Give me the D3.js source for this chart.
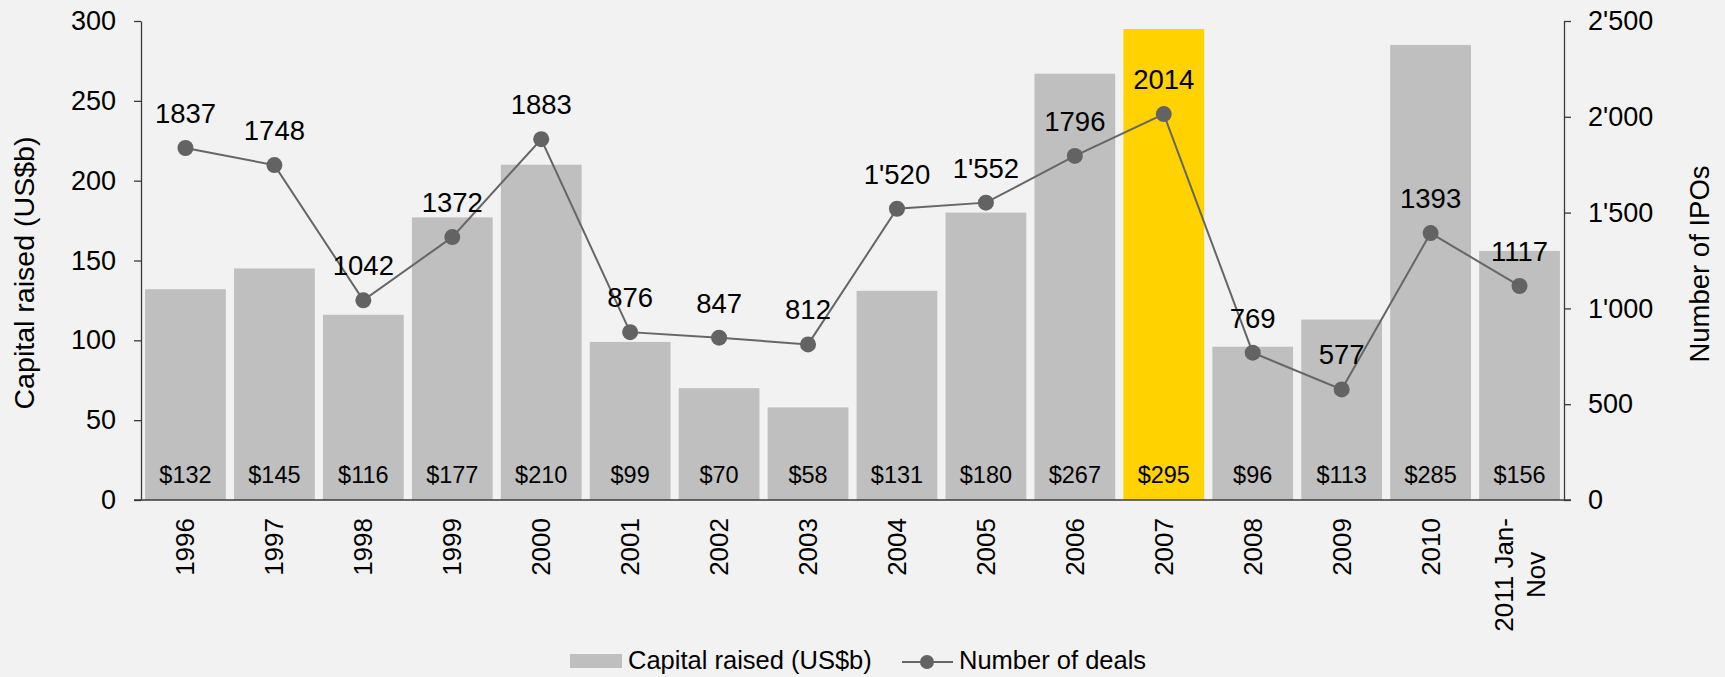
<!DOCTYPE html>
<html>
<head>
<meta charset="utf-8">
<script src="https://cdn.jsdelivr.net/npm/d3@7"></script>
<style>
  html, body { margin: 0; padding: 0; background: #f2f2f2; }
  svg { display: block; font-family: "Liberation Sans", Arial, sans-serif; }
  .axis path, .axis line { stroke: #3a3a3a; stroke-width: 1.3; }
  .axis text { font-size: 27px; fill: #000; }
</style>
</head>
<body>
<svg id="chart" width="1725" height="677"></svg>
<script>
// categories (multi-line labels use \n)
const years = ["1996", "1997", "1998", "1999", "2000", "2001", "2002", "2003",
  "2004", "2005", "2006", "2007", "2008", "2009", "2010", "2011 Jan-\nNov"];
// capital raised, US$b
const capital = [132, 145, 116, 177, 210, 99, 70, 58, 131, 180, 267, 295, 96, 113, 285, 156];
// number of deals
const deals = [1837, 1748, 1042, 1372, 1883, 876, 847, 812, 1520, 1552, 1796, 2014, 769, 577, 1393, 1117];
// deal labels as printed on the chart
const dealLabels = ["1837", "1748", "1042", "1372", "1883", "876", "847", "812",
  "1'520", "1'552", "1796", "2014", "769", "577", "1393", "1117"];
const leftTicks = [0, 50, 100, 150, 200, 250, 300];
const rightTicks = [0, 500, 1000, 1500, 2000, 2500];
const highlightYear = "2007";

const svg = d3.select("#chart");
const mLeft = 141, mRight = 1564, mTop = 21, mBottom = 500;

const x = d3.scaleBand()
  .domain(years)
  .range([mLeft, mRight])
  .paddingInner(0.092)
  .paddingOuter(0.046);

const y = d3.scaleLinear().domain([0, 300]).range([mBottom, mTop]);
const y2 = d3.scaleLinear().domain([0, 2500]).range([mBottom, mTop]);

// bars
svg.append("g")
  .selectAll("rect")
  .data(years)
  .join("rect")
  .attr("x", d => x(d))
  .attr("width", x.bandwidth())
  .attr("y", (d, i) => y(capital[i]))
  .attr("height", (d, i) => mBottom - y(capital[i]))
  .attr("fill", d => d === highlightYear ? "#ffd200" : "#bfbfbf");

// bar value labels
svg.append("g")
  .selectAll("text")
  .data(years)
  .join("text")
  .attr("x", d => x(d) + x.bandwidth() / 2)
  .attr("y", 483)
  .attr("text-anchor", "middle")
  .attr("font-size", 23.5)
  .attr("fill", "#000")
  .text((d, i) => "$" + capital[i]);

// axes
const fmt = d => d3.format(",")(d).replace(/,/g, "'");

svg.append("g")
  .attr("class", "axis")
  .attr("transform", `translate(${mLeft},0)`)
  .call(d3.axisLeft(y).tickValues(leftTicks).tickSize(7).tickSizeOuter(0).tickPadding(18));

svg.append("g")
  .attr("class", "axis")
  .attr("transform", `translate(${mRight},0)`)
  .call(d3.axisRight(y2).tickValues(rightTicks).tickFormat(fmt).tickSize(7).tickSizeOuter(0).tickPadding(17));

// baseline
svg.append("line")
  .attr("x1", mLeft - 7).attr("x2", mRight + 7)
  .attr("y1", mBottom).attr("y2", mBottom)
  .attr("stroke", "#3a3a3a").attr("stroke-width", 1.3);

// category labels, rotated
const xl = svg.append("g")
  .selectAll("g")
  .data(years)
  .join("g")
  .attr("transform", d => `translate(${x(d) + x.bandwidth() / 2},518) rotate(-90)`);

xl.each(function(d) {
  const lines = d.split("\n");
  const t = d3.select(this).append("text")
    .attr("font-size", 26)
    .attr("fill", "#000")
    .attr("dominant-baseline", "central");
  if (lines.length === 1) {
    t.attr("text-anchor", "end").text(d);
  } else {
    t.attr("text-anchor", "middle");
    lines.forEach((l, j) => {
      t.append("tspan").attr("x", 0).attr("y", (j - (lines.length - 1) / 2) * 32).text(l);
    });
    const w = this.getBBox().width;
    t.attr("transform", `translate(${-w / 2},0)`);
  }
});

// line + markers
const line = d3.line()
  .x((d, i) => x(years[i]) + x.bandwidth() / 2)
  .y(d => y2(d));

svg.append("path")
  .datum(deals)
  .attr("d", line)
  .attr("fill", "none")
  .attr("stroke", "#666")
  .attr("stroke-width", 2);

svg.append("g")
  .selectAll("circle")
  .data(deals)
  .join("circle")
  .attr("cx", (d, i) => x(years[i]) + x.bandwidth() / 2)
  .attr("cy", d => y2(d))
  .attr("r", 8)
  .attr("fill", "#636363");

svg.append("g")
  .selectAll("text")
  .data(deals)
  .join("text")
  .attr("x", (d, i) => x(years[i]) + x.bandwidth() / 2)
  .attr("y", d => y2(d) - 25)
  .attr("text-anchor", "middle")
  .attr("font-size", 27.5)
  .attr("fill", "#000")
  .text((d, i) => dealLabels[i]);

// axis titles
svg.append("text")
  .attr("transform", "translate(25,273) rotate(-90)")
  .attr("text-anchor", "middle")
  .attr("dominant-baseline", "central")
  .attr("font-size", 27)
  .attr("textLength", 273)
  .attr("lengthAdjust", "spacingAndGlyphs")
  .text("Capital raised (US$b)");

svg.append("text")
  .attr("transform", "translate(1699,264) rotate(-90)")
  .attr("text-anchor", "middle")
  .attr("dominant-baseline", "central")
  .attr("font-size", 27.5)
  .text("Number of IPOs");

// legend
const lg = svg.append("g");
lg.append("rect").attr("x", 570).attr("y", 654).attr("width", 52).attr("height", 14).attr("fill", "#bfbfbf");
lg.append("text").attr("x", 628).attr("y", 669)
  .attr("font-size", 25.5).text("Capital raised (US$b)");
lg.append("line").attr("x1", 902).attr("x2", 953).attr("y1", 662).attr("y2", 662)
  .attr("stroke", "#666").attr("stroke-width", 2);
lg.append("circle").attr("cx", 927).attr("cy", 662).attr("r", 7).attr("fill", "#636363");
lg.append("text").attr("x", 959).attr("y", 669)
  .attr("font-size", 25.5).text("Number of deals");
</script>
</body>
</html>
